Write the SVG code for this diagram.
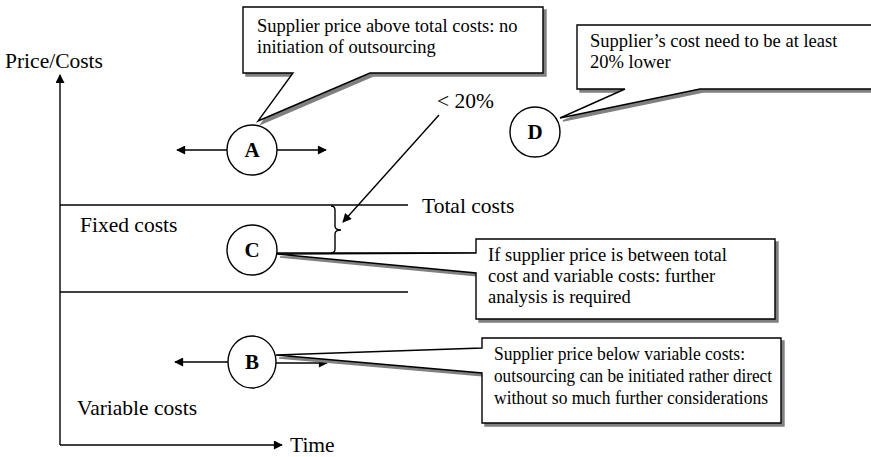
<svg xmlns="http://www.w3.org/2000/svg" width="871" height="457" viewBox="0 0 871 457">
  <style>
    .ln { stroke: #000; stroke-width: 1.4; fill: none; }
    .lbl { font-family: "Liberation Serif", "Times New Roman", serif; font-size: 21.5px; fill: #000; }
    .txt { font-family: "Liberation Serif", "Times New Roman", serif; font-size: 18.5px; fill: #000; }
    .ltr { font-family: "Liberation Serif", "Times New Roman", serif; font-size: 21px; font-weight: bold; fill: #000; text-anchor: middle; }
    .circ { fill: #fff; stroke: #000; stroke-width: 1.4; }
    .box { fill: #fff; stroke: #000; stroke-width: 1.4; stroke-linejoin: miter; }
    .shadow { fill: #808080; stroke: #808080; stroke-width: 1.4; }
  </style>
  <defs>
    <marker id="arr" viewBox="0 0 10 10" refX="9" refY="5" markerWidth="10" markerHeight="9" markerUnits="userSpaceOnUse" orient="auto">
      <path d="M0,0 L10,5 L0,10 Z" fill="#000"/>
    </marker>
  </defs>
  <rect width="871" height="457" fill="#fff"/>

  <!-- axes and cost levels -->
  <g id="axes">
    <line class="ln" x1="60" y1="445" x2="60" y2="75" marker-end="url(#arr)"/>
    <line class="ln" x1="60" y1="445" x2="282" y2="445" marker-end="url(#arr)"/>
    <text class="lbl" x="5" y="68">Price/Costs</text>
    <text class="lbl" x="290" y="452">Time</text>
  </g>
  <g id="levels">
    <line class="ln" x1="60" y1="205" x2="408" y2="205"/>
    <line class="ln" x1="60" y1="292" x2="408" y2="292"/>
    <text class="lbl" x="422" y="213">Total costs</text>
    <text class="lbl" x="80" y="232">Fixed costs</text>
    <text class="lbl" x="77" y="415">Variable costs</text>
    <path class="ln" d="M331,206 Q335,206 335,210 V226 Q335,230 341,230 Q335,230 335,234 V249 Q335,253 331,253"/>
    <text class="lbl" x="437" y="108">&lt; 20%</text>
  </g>

  <!-- connectors -->
  <g id="connectors">
    <line class="ln" x1="227" y1="150" x2="177" y2="150" marker-end="url(#arr)"/>
    <line class="ln" x1="277" y1="150" x2="326" y2="150" marker-end="url(#arr)"/>
    <line class="ln" x1="228" y1="362" x2="175" y2="362" marker-end="url(#arr)"/>
    <line class="ln" x1="276" y1="363" x2="327" y2="363" marker-end="url(#arr)"/>
    <line class="ln" x1="439" y1="115" x2="343" y2="222" marker-end="url(#arr)"/>
    <line class="ln" x1="277" y1="253" x2="476" y2="253"/>
  </g>

  <!-- callouts -->
  <g id="callout-a">
    <path class="shadow" transform="translate(3,3)" d="M243,7 H543 V73 H370 L258,121 L293,73 H243 Z"/>
    <path class="box" d="M243,7 H543 V73 H370 L258,121 L293,73 H243 Z"/>
    <text class="txt" x="257" y="32">Supplier price above total costs: no</text>
    <text class="txt" x="257" y="53">initiation of outsourcing</text>
  </g>
  <g id="callout-d">
    <path class="shadow" transform="translate(3,3)" d="M577,25 H880 V89 H700 L560,118 L625,89 H577 Z"/>
    <path class="box" d="M577,25 H880 V89 H700 L560,118 L625,89 H577 Z"/>
    <text class="txt" x="590" y="47">Supplier’s cost need to be at least</text>
    <text class="txt" x="590" y="68">20% lower</text>
  </g>
  <g id="callout-c">
    <path class="shadow" transform="translate(3,3)" d="M476,239 H775 V319 H476 V273 L277,254 L476,253 Z"/>
    <path class="box" d="M476,239 H775 V319 H476 V273 L277,254 L476,253 Z"/>
    <text class="txt" x="488" y="261">If supplier price is between total</text>
    <text class="txt" x="488" y="282">cost and variable costs: further</text>
    <text class="txt" x="488" y="303">analysis is required</text>
  </g>
  <g id="callout-b">
    <path class="shadow" transform="translate(3,3)" d="M482,338 H781 V423 H482 V373 L276,355 L482,348 Z"/>
    <path class="box" d="M482,338 H781 V423 H482 V373 L276,355 L482,348 Z"/>
    <text class="txt" x="494" y="360" textLength="251" lengthAdjust="spacingAndGlyphs">Supplier price below variable costs:</text>
    <text class="txt" x="494" y="382" textLength="278" lengthAdjust="spacingAndGlyphs">outsourcing can be initiated rather direct</text>
    <text class="txt" x="494" y="404" textLength="274" lengthAdjust="spacingAndGlyphs">without so much further considerations</text>
  </g>

  <!-- points -->
  <g id="node-a">
    <circle class="circ" cx="252" cy="150" r="25"/>
    <text class="ltr" x="252" y="157">A</text>
  </g>
  <g id="node-b">
    <ellipse class="circ" cx="252" cy="362" rx="24" ry="26"/>
    <text class="ltr" x="252" y="369">B</text>
  </g>
  <g id="node-c">
    <circle class="circ" cx="252" cy="250" r="25"/>
    <text class="ltr" x="252" y="257">C</text>
  </g>
  <g id="node-d">
    <circle class="circ" cx="535" cy="132" r="25"/>
    <text class="ltr" x="535" y="139">D</text>
  </g>
</svg>
